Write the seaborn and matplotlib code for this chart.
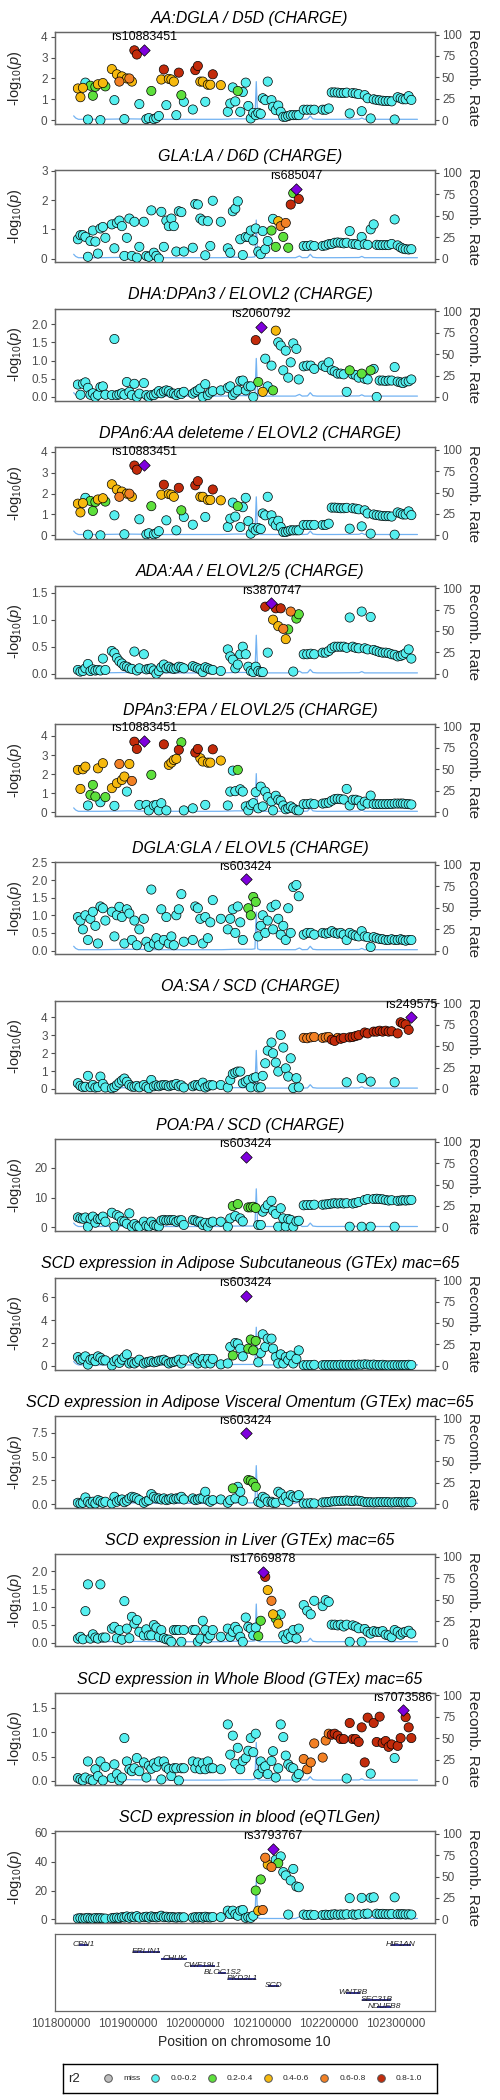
import matplotlib
matplotlib.use("Agg")
import matplotlib.pyplot as plt
from matplotlib.lines import Line2D
from matplotlib.ticker import FuncFormatter
import pandas as pd
import seaborn as sns

sns.set_style("white")
plt.rcParams["font.family"] = ["Liberation Sans", "DejaVu Sans"]
plt.rcParams["mathtext.fontset"] = "custom"
plt.rcParams["mathtext.rm"] = "Liberation Sans"
plt.rcParams["mathtext.it"] = "Liberation Sans:italic"

# ------------------------------------------------------------------ data
# SNP positions (kb) on chromosome 10, shared by all panels
snp_kb = [101825.3, 101829.1, 101832.8, 101836.5, 101840.3, 101844.0, 101847.7, 101851.4, 101855.2, 101858.9, 101862.6, 101866.3,
          101876.0, 101879.8, 101883.5, 101887.2, 101891.0, 101894.7, 101898.4, 101902.1, 101905.9, 101909.6, 101913.3, 101917.0,
          101923.8, 101927.5, 101931.2, 101934.9, 101938.7, 101942.4, 101946.1, 101949.8, 101953.6, 101957.3, 101961.0, 101964.8,
          101968.5, 101972.2, 101975.9, 101979.7, 101983.4,
          101996.8, 102000.5, 102004.3, 102008.0, 102011.7, 102015.4, 102019.2, 102022.9, 102026.6, 102038.6,
          102049.0, 102052.7, 102056.5, 102060.2, 102063.9, 102067.6, 102071.4, 102075.8, 102079.6, 102083.3, 102087.0, 102090.7,
          102094.5, 102098.2, 102101.2, 102104.9, 102108.6, 102114.2, 102116.5, 102120.6, 102124.3, 102128.0, 102131.8, 102135.5,
          102139.2, 102142.9, 102146.7, 102151.4, 102154.9,
          102162.3, 102167.5, 102172.8, 102178.0,
          102190.6, 102195.1, 102199.6, 102204.1, 102208.5, 102213.0, 102217.5, 102222.0, 102226.4, 102230.9, 102235.4, 102239.8,
          102244.3, 102248.8, 102253.3, 102257.7, 102262.2, 102266.7, 102271.2, 102275.6, 102280.1, 102284.6, 102289.0, 102293.5,
          102298.0, 102302.5, 102306.9, 102310.4, 102314.4, 102318.9, 102322.9]

# -log10(p) per panel (same SNP order) and r2 class codes (0 miss, 1 0.0-0.2 ... 5 0.8-1.0)
logp_aa_dgla = ([1.52, 1.1, 1.55, 1.8, 0.03, 1.65, 1.17, 1.6, 1.72, 0.0, 1.78, 1.62]
                + [2.45, 0.96, 2.2, 1.85, 2.1, 0.05, 2.0, 2.0, 1.85, 3.35, 3.15, 0.77, 3.38, 0.05, 0.1, 1.4, 0.05, 0.1, 0.2, 1.95,
                   2.43, 0.72, 1.98, 1.95, 1.85, 0.24, 2.28, 1.2, 0.88]
                + [0.51, 2.4, 2.6, 1.85, 1.85, 0.88, 1.7, 1.7, 2.2, 1.68]
                + [0.4, 0.8, 1.57, 0.9, 1.4, 0.4, 1.35, 1.8, 0.68, 0.08, 0.35, 0.24, 0.35, 0.3, 1.05, 0.96, 1.85, 0.96, 0.64, 0.48,
                   0.7, 0.4, 0.16, 0.16, 0.2, 0.24, 0.24, 0.24, 0.24]
                + [0.5, 0.5, 0.5, 0.5]
                + [0.5, 0.5, 0.56, 1.33, 1.33, 1.32, 1.3, 1.3, 1.32, 0.32, 1.3, 1.28, 1.25, 0.43, 1.2, 1.05, 0.08, 1.0, 0.97, 0.95,
                   0.93, 0.92, 0.92, 0.9, 0.03, 1.1, 1.05, 1.0, 1.0, 1.15, 0.97])
r2_aa_dgla = ("333112223132" + "3134313435" + "5151121113" + "513331521" + "1553313353"
              + "11112" + "1" * 24 + "1111" + "1" * 31)

logp_gla_la = ([0.66, 0.8, 0.8, 0.74, 0.06, 0.6, 0.96, 0.58, 0.17, 1.03, 1.08, 0.71]
               + [1.17, 0.35, 1.22, 1.3, 1.11, 0.09, 0.71, 1.37, 0.09, 1.26, 0.03, 0.4, 1.26, 0.09, 0.06, 1.65, 0.2, 0.09, 0.0, 1.6,
                  0.4, 1.3, 1.11, 1.37, 1.11, 0.24, 1.62, 1.59, 0.24]
               + [0.37, 1.87, 1.85, 1.37, 1.3, 0.11, 1.28, 0.43, 1.98, 1.26]
               + [0.35, 0.2, 1.62, 1.71, 1.96, 0.66, 0.12, 0.74, 0.74, 0.96, 0.62, 1.03, 0.24, 0.15, 0.94, 0.32, 0.6, 0.96, 1.36,
                  0.4, 1.28, 1.11, 0.74, 1.22, 0.37, 1.85, 2.24, 2.39, 2.04]
               + [0.43, 0.43, 0.45, 0.43]
               + [0.43, 0.45, 0.49, 0.5, 0.54, 0.55, 0.54, 0.52, 0.54, 0.94, 0.5, 0.49, 0.47, 0.74, 0.49, 0.47, 1.0, 1.17, 0.47,
                  0.46, 0.46, 0.46, 0.46, 0.5, 1.34, 0.45, 0.38, 0.34, 0.32, 0.31, 0.32])
r2_gla_la = ("1" * 12 + "1" * 29 + "1" * 10 + "1" * 17 + "212342425255" + "1111" + "1" * 31)

logp_dha_dpan3 = ([0.34, 0.06, 0.36, 0.4, 0.25, 0.06, 0.1, 0.0, 0.06, 0.27, 0.29, 0.06]
                  + [0.05, 1.59, 0.05, 0.07, 0.1, 0.06, 0.41, 0.14, 0.05, 0.36, 0.0, 0.09, 0.38, 0.05, 0.0, 0.05, 0.05, 0.1, 0.16,
                     0.1, 0.15, 0.18, 0.16, 0.1, 0.09, 0.05, 0.11, 0.08, 0.14]
                  + [0.09, 0.14, 0.18, 0.23, 0.0, 0.35, 0.05, 0.12, 0.16, 0.18]
                  + [0.25, 0.29, 0.05, 0.12, 0.18, 0.44, 0.45, 0.18, 0.29, 0.29, 0.0, 1.56, 0.41, 1.93, 0.14, 1.05, 0.29, 0.86,
                     0.18, 1.82, 1.5, 1.41, 0.73, 1.27, 0.53, 0.95, 1.47, 1.32, 0.48]
                  + [0.84, 0.86, 0.86, 0.77]
                  + [0.86, 0.82, 0.95, 0.73, 0.7, 0.64, 0.64, 0.62, 0.14, 0.73, 0.62, 0.6, 0.53, 0.64, 0.5, 0.48, 0.73, 0.77, 0.0,
                     0.45, 0.45, 0.44, 0.45, 0.45, 0.82, 0.42, 0.4, 0.38, 0.42, 0.43, 0.48])
r2_dha_dpan3 = ("1" * 12 + "1" * 29 + "1" * 10 + "11111111111" + "525311123" + "111111111" + "1111"
                + "111111111" + "2" + "111" + "2" + "11" + "2" + "1" * 14)

logp_ada_aa = ([0.07, 0.04, 0.05, 0.1, 0.18, 0.05, 0.08, 0.06, 0.07, 0.06, 0.28, 0.07]
               + [0.42, 0.38, 0.29, 0.23, 0.19, 0.14, 0.13, 0.1, 0.09, 0.41, 0.06, 0.1, 0.36, 0.08, 0.09, 0.1, 0.06, 0.0, 0.05,
                  0.12, 0.17, 0.1, 0.13, 0.1, 0.09, 0.1, 0.13, 0.12, 0.1]
               + [0.14, 0.12, 0.1, 0.08, 0.03, 0.12, 0.1, 0.08, 0.07, 0.05]
               + [0.45, 0.32, 0.26, 0.1, 0.17, 0.36, 0.5, 0.36, 0.13, 0.05, 0.03, 0.13, 0.05, 0.03, 0.03, 1.24, 0.39, 1.3, 1.0,
                  1.21, 0.88, 1.21, 0.83, 0.64, 0.82, 1.15, 0.04, 1.02, 1.1]
               + [0.36, 0.36, 0.37, 0.36]
               + [0.39, 0.39, 0.42, 0.47, 0.5, 0.5, 0.5, 0.5, 0.48, 1.04, 0.5, 0.48, 0.47, 1.15, 0.47, 0.45, 1.05, 0.44, 0.42,
                  0.4, 0.39, 0.39, 0.38, 0.36, 0.35, 0.32, 0.33, 0.35, 0.38, 0.45, 0.28])
r2_ada_aa = ("1" * 12 + "1" * 29 + "1" * 10 + "111111111111111" + "51535354324122" + "1111" + "1" * 31)

logp_dpan3_epa = ([2.22, 1.22, 2.25, 2.39, 0.35, 0.91, 1.43, 0.82, 2.3, 0.52, 2.57, 0.79]
                  + [1.26, 0.33, 1.52, 2.53, 1.69, 1.87, 1.08, 2.53, 1.64, 3.7, 3.32, 0.38, 3.74, 0.38, 0.09, 1.96, 0.35, 0.38,
                     0.09, 0.47, 3.56, 0.09, 2.48, 2.6, 2.74, 2.8, 3.27, 3.67, 0.09]
                  + [0.2, 3.13, 3.32, 2.83, 2.66, 0.38, 2.6, 2.6, 3.3, 2.71]
                  + [0.35, 1.08, 2.18, 1.1, 2.22, 1.2, 1.08, 0.3, 0.09, 0.38, 0.47, 1.05, 0.2, 1.34, 0.3, 1.08, 0.79, 0.56, 0.09,
                     0.86, 0.65, 0.59, 0.35, 0.15, 0.2, 0.3, 0.2, 0.1, 0.09]
                  + [0.42, 0.42, 0.45, 0.42]
                  + [0.45, 0.47, 0.5, 0.6, 0.68, 0.7, 0.68, 0.66, 1.22, 0.35, 0.65, 0.65, 0.6, 0.35, 0.55, 0.45, 0.87, 0.42,
                     0.42, 0.42, 0.42, 0.42, 0.43, 0.43, 0.45, 0.45, 0.45, 0.45, 0.43, 0.42, 0.4])
r2_dpan3_epa = ("333312223132" + "3134331345" + "5151121111" + "513333521" + "1553313353"
                + "11112" + "1" * 24 + "1111" + "1" * 31)

logp_dgla_gla = ([0.95, 0.85, 0.6, 1.0, 0.3, 0.9, 1.1, 0.7, 0.2, 1.25, 1.2, 0.85]
                 + [1.1, 0.4, 1.0, 1.24, 0.95, 0.2, 1.17, 1.05, 0.3, 0.85, 0.15, 0.6, 0.9, 0.25, 0.1, 1.73, 0.2, 0.35, 0.15,
                    1.17, 0.3, 0.95, 0.2, 0.4, 0.15, 1.0, 1.17, 1.6, 0.25]
                 + [0.3, 1.25, 1.2, 0.9, 0.2, 0.95, 0.35, 0.8, 1.43, 0.9]
                 + [0.6, 0.9, 1.17, 0.5, 1.25, 0.8, 0.3, 2.02, 1.2, 1.0, 1.52, 1.38, 0.4, 0.7, 1.0, 0.5, 0.85, 1.23, 0.6, 1.3,
                    0.9, 0.45, 0.7, 0.3, 1.2, 0.5, 1.8, 1.86, 1.54]
                 + [0.45, 0.5, 0.5, 0.45]
                 + [0.5, 0.48, 0.5, 0.55, 0.5, 0.48, 0.5, 0.45, 0.3, 0.5, 0.45, 0.42, 0.4, 0.55, 0.4, 0.38, 0.1, 0.38, 0.35,
                    0.33, 0.32, 0.3, 0.3, 0.32, 0.3, 0.3, 0.32, 0.3, 0.28, 0.3, 0.3])
r2_dgla_gla = ("1" * 12 + "1" * 29 + "1" * 10 + "1111111" + "5" + "2222" + "1" * 17 + "1111" + "1" * 31)

logp_oa_sa = ([0.32, 0.17, 0.1, 0.12, 0.73, 0.1, 0.22, 0.08, 0.1, 0.69, 0.28, 0.08]
              + [0.04, 0.1, 0.22, 0.35, 0.47, 0.58, 0.4, 0.22, 0.13, 0.12, 0.17, 0.09, 0.22, 0.12, 0.04, 0.5, 0.15, 0.2, 0.15,
                 0.2, 0.22, 0.2, 0.15, 0.2, 0.22, 0.28, 0.15, 0.2, 0.08]
              + [0.15, 0.22, 0.2, 0.15, 0.35, 0.08, 0.15, 0.22, 0.2, 0.22]
              + [0.08, 0.5, 0.84, 0.91, 0.97, 0.97, 0.32, 0.41, 0.5, 0.09, 0.6, 0.65, 0.08, 0.09, 0.73, 1.43, 2.14, 2.59, 1.99,
                 1.47, 0.97, 3.01, 2.31, 1.15, 0.69, 1.71, 0.05, 0.6, 0.09]
              + [2.85, 2.83, 2.88, 2.9]
              + [2.85, 2.88, 2.9, 2.75, 2.68, 2.85, 2.8, 2.85, 0.37, 2.88, 2.9, 2.95, 3.0, 0.6, 3.15, 3.1, 0.41, 3.2, 3.2,
                 3.25, 3.2, 3.25, 3.2, 3.22, 0.37, 3.1, 3.72, 3.65, 3.6, 3.3, 4.0])
r2_oa_sa = ("1" * 12 + "1" * 29 + "1" * 10 + "1" * 29 + "4444" + "4445545515" + "5551551555" + "55551555555")

logp_poa_pa = ([3.35, 3.0, 2.9, 3.3, 0.2, 2.9, 3.6, 1.56, 2.8, 2.8, 3.6, 1.9]
               + [4.9, 0.2, 4.1, 3.6, 2.1, 1.9, 1.2, 4.7, 0.2, 1.1, 0.4, 0.2, 1.9, 0.5, 0.3, 1.9, 0.8, 0.5, 0.3, 2.3, 2.5, 2.3,
                  2.4, 2.4, 2.4, 1.9, 2.3, 2.4, 0.8]
               + [2.5, 2.3, 1.9, 1.9, 0.8, 1.5, 0.2, 1.6, 1.9, 1.9]
               + [0.2, 3.0, 7.15, 3.8, 7.8, 3.0, 2.0, 23.7, 6.7, 6.7, 6.9, 6.5, 0.8, 0.8, 5.25, 6.4, 7.5, 8.9, 5.6, 4.5, 0.2,
                  6.4, 3.0, 0.3, 2.8, 2.5, 0.2, 2.0, 2.2]
               + [7.4, 7.5, 7.5, 7.6]
               + [7.6, 7.7, 7.8, 8.0, 8.1, 8.0, 8.1, 8.0, 8.1, 0.2, 8.0, 8.2, 8.5, 0.2, 9.2, 9.5, 0.2, 9.5, 9.6, 9.5, 9.4, 9.2,
                  9.0, 9.1, 0.2, 8.9, 9.0, 9.1, 9.0, 9.1, 9.2])
r2_poa_pa = ("1" * 12 + "1" * 29 + "1" * 10 + "1121211" + "5" + "2222" + "1" * 17 + "1111" + "1" * 31)

logp_adipose_sc = ([0.76, 0.53, 0.6, 0.82, 0.1, 0.53, 0.6, 0.4, 0.82, 0.7, 0.47, 0.47]
                   + [0.03, 0.4, 0.55, 0.25, 0.53, 0.76, 1.0, 0.2, 0.3, 0.2, 0.35, 0.53, 0.2, 0.3, 0.35, 0.4, 0.3, 0.35, 0.45,
                      0.47, 0.53, 0.4, 0.2, 0.3, 0.35, 0.4, 0.53, 0.2, 0.53]
                   + [0.6, 0.7, 0.2, 0.47, 0.6, 0.2, 0.6, 0.2, 0.6, 0.12]
                   + [0.2, 1.65, 0.9, 2.0, 1.94, 1.5, 0.82, 6.15, 1.5, 2.3, 1.35, 2.18, 0.3, 1.12, 2.76, 1.65, 2.38, 2.38, 1.5,
                      0.76, 0.2, 1.0, 0.2, 0.76, 0.5, 0.9, 0.2, 0.6, 1.35]
                   + [0.05, 0.05, 0.06, 0.08]
                   + [0.05, 0.06, 0.05, 0.07, 0.06, 0.05, 0.08, 0.06, 0.07, 0.06, 0.08, 0.07, 0.1, 0.09, 0.12, 0.1, 0.08, 0.1,
                      0.06, 0.05, 0.08, 0.04, 0.03, 0.05, 0.06, 0.04, 0.05, 0.06, 0.05, 0.08, 0.06])
r2_adipose_sc = ("1" * 12 + "1" * 29 + "1" * 10 + "1121111" + "5" + "2222" + "1" * 17 + "1111" + "1" * 31)

logp_adipose_vo = ([0.14, 0.07, 0.14, 0.7, 0.25, 0.07, 0.25, 0.07, 0.42, 0.3, 0.14, 0.25]
                   + [0.07, 0.77, 0.25, 0.42, 0.49, 0.2, 0.35, 0.6, 0.77, 0.7, 0.6, 0.42, 0.14, 0.3, 0.42, 1.05, 0.77, 0.6,
                      0.6, 0.49, 0.6, 0.42, 0.49, 0.6, 0.5, 0.6, 0.6, 0.77, 0.49]
                   + [0.6, 0.42, 0.49, 0.6, 0.6, 1.3, 0.42, 0.25, 0.42, 0.49]
                   + [0.14, 0.42, 1.65, 0.6, 1.82, 1.3, 0.35, 7.44, 2.53, 2.46, 2.25, 1.82, 0.25, 0.14, 0.77, 0.6, 0.25, 0.25,
                      0.14, 0.14, 1.3, 1.12, 0.42, 0.77, 0.25, 0.95, 0.77, 0.7, 0.95]
                   + [0.07, 0.07, 0.1, 0.07]
                   + [0.18, 0.2, 0.22, 0.28, 0.3, 0.32, 0.35, 0.35, 0.38, 0.35, 0.32, 0.38, 0.35, 0.3, 0.22, 0.2, 0.2, 0.18,
                      0.2, 0.22, 0.2, 0.22, 0.2, 0.18, 0.2, 0.22, 0.2, 0.18, 0.2, 0.22, 0.2])
r2_adipose_vo = ("1" * 12 + "1" * 29 + "1" * 10 + "1121111" + "5" + "2222" + "1" * 17 + "1111" + "1" * 31)

logp_liver = ([0.11, 0.16, 0.09, 0.88, 1.63, 0.11, 0.23, 0.14, 0.11, 1.63, 0.14, 0.14]
              + [0.39, 0.44, 0.12, 0.35, 0.08, 1.16, 0.39, 0.12, 0.72, 0.53, 0.63, 0.3, 0.2, 0.37, 0.2, 0.2, 0.49, 0.42, 0.16,
                 0.35, 0.12, 0.09, 0.08, 0.02, 0.35, 0.35, 0.35, 0.02, 0.35]
              + [0.35, 0.35, 0.02, 0.11, 0.61, 0.35, 0.11, 0.2, 0.35, 0.16]
              + [0.39, 0.16, 0.3, 0.44, 0.35, 0.16, 0.02, 0.7, 0.44, 0.39, 0.2, 0.42, 0.18, 0.61, 1.98, 1.84, 1.47, 1.17, 0.79,
                 0.67, 0.53, 0.79, 0.2, 0.1, 0.25, 0.16, 0.35, 0.11, 0.39]
              + [1.05, 0.89, 0.79, 1.17]
              + [1.02, 1.19, 1.14, 0.5, 0.5, 0.48, 0.5, 0.45, 0.5, 0.02, 0.48, 0.45, 0.4, 0.02, 0.38, 0.3, 0.25, 0.32, 0.3,
                 0.3, 0.32, 0.22, 0.2, 0.15, 0.35, 0.3, 0.22, 0.28, 0.3, 0.33, 0.25])
r2_liver = ("1" * 12 + "1" * 29 + "1" * 10 + "111111111111" + "225534323" + "11111111" + "1111" + "1" * 31)

logp_whole_blood = ([0.06, 0.03, 0.01, 0.07, 0.4, 0.03, 0.01, 0.24, 0.1, 0.4, 0.01, 0.29]
                    + [0.06, 0.34, 0.14, 0.01, 0.07, 0.88, 0.4, 0.24, 0.2, 0.26, 0.47, 0.2, 0.38, 0.07, 0.31, 0.25, 0.36,
                       0.29, 0.4, 0.03, 0.4, 0.28, 0.24, 0.1, 0.26, 0.26, 0.01, 0.26, 0.26]
                    + [0.4, 0.26, 0.38, 0.24, 0.36, 0.24, 0.4, 0.26, 0.26, 0.24]
                    + [1.16, 0.54, 0.93, 0.35, 0.68, 0.24, 0.41, 0.47, 0.62, 0.88, 0.59, 0.97, 0.14, 0.4, 0.26, 0.3, 0.14,
                       0.41, 0.61, 0.07, 0.26, 1.16, 0.9, 0.52, 0.34, 0.28, 0.26, 0.07, 0.14]
                    + [0.45, 0.24, 0.38, 0.77]
                    + [0.48, 0.83, 0.97, 0.95, 0.97, 0.93, 0.86, 0.86, 0.05, 1.19, 0.86, 0.86, 0.8, 1.1, 0.38, 1.3, 0.15,
                       1.19, 0.8, 1.32, 0.78, 0.82, 0.7, 0.75, 0.47, 0.72, 0.88, 1.45, 1.31, 1.1, 0.88])
r2_whole_blood = ("1" * 12 + "1" * 29 + "1" * 10 + "1" * 29 + "4444" + "4445555515" + "5555551555" + "55551555555")

logp_eqtlgen = ([0.6, 0.8, 0.5, 0.7, 1.0, 0.6, 0.5, 0.9, 0.7, 0.8, 0.6, 0.5]
                + [0.8, 1.0, 1.2, 0.9, 1.5, 1.3, 2.0, 1.1, 1.8, 1.4, 2.2, 1.2, 1.5, 1.8, 1.2, 2.0, 1.6, 1.4, 1.8, 2.5, 1.5,
                   1.8, 1.3, 1.6, 1.4, 1.2, 1.5, 1.3, 1.4]
                + [1.2, 1.5, 1.3, 1.6, 1.2, 1.8, 1.4, 1.3, 1.6, 1.5]
                + [6.0, 3.7, 6.0, 3.5, 2.5, 6.0, 6.5, 1.0, 1.5, 1.0, 2.5, 20.0, 6.0, 27.7, 6.5, 42.8, 38.0, 36.3, 49.0,
                   41.4, 39.0, 43.7, 32.8, 30.5, 3.3, 27.0, 35.0, 22.8, 22.3]
                + [3.3, 3.0, 3.2, 3.0]
                + [3.0, 3.2, 3.0, 3.3, 3.5, 3.2, 3.4, 3.3, 3.5, 14.7, 3.4, 3.2, 3.5, 14.9, 3.8, 4.0, 15.0, 15.3, 3.9, 3.7,
                   3.8, 3.6, 3.5, 3.7, 15.3, 3.6, 3.5, 3.6, 3.4, 3.5, 3.3])
r2_eqtlgen = ("1" * 12 + "1" * 29 + "1" * 10 + "11111111111" + "2324434512" + "11111111" + "1111" + "1" * 31)

# panels
panel_titles = ["AA:DGLA / D5D (CHARGE)", "GLA:LA / D6D (CHARGE)", "DHA:DPAn3 / ELOVL2 (CHARGE)",
                "DPAn6:AA deleteme / ELOVL2 (CHARGE)", "ADA:AA / ELOVL2/5 (CHARGE)", "DPAn3:EPA / ELOVL2/5 (CHARGE)",
                "DGLA:GLA / ELOVL5 (CHARGE)", "OA:SA / SCD (CHARGE)", "POA:PA / SCD (CHARGE)",
                "SCD expression in Adipose Subcutaneous (GTEx) mac=65",
                "SCD expression in Adipose Visceral Omentum (GTEx) mac=65",
                "SCD expression in Liver (GTEx) mac=65", "SCD expression in Whole Blood (GTEx) mac=65",
                "SCD expression in blood (eQTLGen)"]
panel_logp = [logp_aa_dgla, logp_gla_la, logp_dha_dpan3, logp_aa_dgla, logp_ada_aa, logp_dpan3_epa, logp_dgla_gla,
              logp_oa_sa, logp_poa_pa, logp_adipose_sc, logp_adipose_vo, logp_liver, logp_whole_blood, logp_eqtlgen]
panel_r2 = [r2_aa_dgla, r2_gla_la, r2_dha_dpan3, r2_aa_dgla, r2_ada_aa, r2_dpan3_epa, r2_dgla_gla,
            r2_oa_sa, r2_poa_pa, r2_adipose_sc, r2_adipose_vo, r2_liver, r2_whole_blood, r2_eqtlgen]
lead_snp = ["rs10883451", "rs685047", "rs2060792", "rs10883451", "rs3870747", "rs10883451", "rs603424",
            "rs249575", "rs603424", "rs603424", "rs603424", "rs17669878", "rs7073586", "rs3793767"]
lead_kb = [101923.8, 102151.4, 102098.2, 101923.8, 102114.2, 101923.8, 102075.8,
           102322.9, 102075.8, 102075.8, 102075.8, 102101.2, 102310.4, 102116.5]
y_top = [4.23, 3.02, 2.42, 4.23, 1.63, 4.63, 2.5, 4.92, 29.6, 7.74, 9.26, 2.47, 1.81, 61.2]
y_ticks = [[0, 1, 2, 3, 4], [0, 1, 2, 3], [0, 0.5, 1, 1.5, 2], [0, 1, 2, 3, 4], [0, 0.5, 1, 1.5], [0, 1, 2, 3, 4],
           [0, 0.5, 1, 1.5, 2, 2.5], [0, 1, 2, 3, 4], [0, 10, 20], [0, 2, 4, 6], [0, 2.5, 5, 7.5],
           [0, 0.5, 1, 1.5, 2], [0, 0.5, 1, 1.5], [0, 20, 40, 60]]
y_ticklabels = [["0", "1", "2", "3", "4"], ["0", "1", "2", "3"], ["0.0", "0.5", "1.0", "1.5", "2.0"],
                ["0", "1", "2", "3", "4"], ["0.0", "0.5", "1.0", "1.5"], ["0", "1", "2", "3", "4"],
                ["0.0", "0.5", "1.0", "1.5", "2.0", "2.5"], ["0", "1", "2", "3", "4"], ["0", "10", "20"],
                ["0", "2", "4", "6"], ["0.0", "2.5", "5.0", "7.5"], ["0.0", "0.5", "1.0", "1.5", "2.0"],
                ["0.0", "0.5", "1.0", "1.5"], ["0", "20", "40", "60"]]

# recombination rate (cM/Mb)
recomb_kb = [101819, 101822, 101826, 101860, 101900, 101950, 102000, 102040, 102060, 102085, 102089.5, 102091.5,
             102093.5, 102097, 102130, 102150, 102156, 102160, 102168, 102172, 102176, 102182, 102210, 102245,
             102249, 102253, 102262, 102300, 102332]
recomb_rate = [5, 2.5, 1, 1, 1.5, 1, 1, 1, 1.5, 1.5, 2, 45, 2, 1, 1, 1, 3, 1, 1.2, 5, 1.5, 1, 1, 1.2, 2.5, 1, 1, 1, 1]

# genes
gene_names = ["CPN1", "ERLIN1", "CHUK", "CWF19L1", "BLOC1S2", "PKD2L1", "SCD", "WNT8B", "SEC31B", "NDUFB8", "HIF1AN"]
gene_start_kb = [101826.8, 101907.0, 101949.0, 101992.0, 102034.0, 102049.0, 102109.0, 102226.0, 102249.0, 102271.0, 102292.0]
gene_end_kb = [101840.3, 101948.0, 101988.0, 102030.0, 102047.0, 102091.0, 102125.0, 102246.0, 102293.0, 102293.0, 102322.0]
gene_row = [0, 1, 2, 3, 4, 5, 6, 7, 8, 9, 0]

r2_labels = ["miss", "0.0-0.2", "0.2-0.4", "0.4-0.6", "0.6-0.8", "0.8-1.0"]
r2_colors = ["#BEBEBE", "#55EFEF", "#5DE03C", "#F6B90E", "#F28024", "#C22B0B"]
lead_color = "#7F00DD"

# ------------------------------------------------------------------ layout
W, H = 500, 2100
fig = plt.figure(figsize=(W / 100, H / 100), dpi=100)
ax_left, ax_right = 54.5, 435.0
panel_top0, panel_pitch, panel_h = 32.0, 138.4, 92.0
xlim = (101790400, 102358200)
spine_col = "#666666"
tick_col = "#4D4D4D"
palette = dict(zip(r2_labels, r2_colors))


def fig_rect(left_px, top_px, width_px, height_px):
    return [left_px / W, 1 - (top_px + height_px) / H, width_px / W, height_px / H]


for k in range(len(panel_titles)):
    top = panel_top0 + k * panel_pitch
    ax = fig.add_axes(fig_rect(ax_left, top, ax_right - ax_left, panel_h))
    ax2 = ax.twinx()

    df = pd.DataFrame({"pos": [v * 1000 for v in snp_kb], "logp": panel_logp[k],
                       "code": [int(c) for c in panel_r2[k]]})
    df["r2"] = [r2_labels[c] for c in df["code"]]
    lead_mask = (df["pos"] - lead_kb[k] * 1000).abs() < 50
    pts = df[~lead_mask].sort_values("code", kind="stable")
    lead = df[lead_mask]

    sns.lineplot(x=[v * 1000 for v in recomb_kb], y=recomb_rate, ax=ax2, color="#72B2F2",
                 linewidth=0.9, errorbar=None)
    sns.scatterplot(data=pts, x="pos", y="logp", hue="r2", hue_order=r2_labels, palette=palette,
                    s=44, edgecolor="black", linewidth=0.5, legend=False, ax=ax, zorder=3)
    sns.scatterplot(data=lead, x="pos", y="logp", marker="D", color=lead_color, s=34,
                    edgecolor="black", linewidth=0.5, legend=False, ax=ax, zorder=4)
    for _, row in lead.iterrows():
        ax.annotate(lead_snp[k], (row["pos"], row["logp"]), xytext=(0, 9), textcoords="offset points",
                    ha="center", va="center", fontsize=9, color="black", zorder=6)

    ax.set_zorder(ax2.get_zorder() + 1)
    ax.patch.set_visible(False)

    ax.set_xlim(*xlim)
    ax.set_ylim(-0.044 * y_top[k], y_top[k])
    ax2.set_ylim(-4.5, 103)
    ax.set_xticks([])
    ax.set_xlabel("")
    ax.set_yticks(y_ticks[k])
    ax.set_yticklabels(y_ticklabels[k])
    ax2.set_yticks([0, 25, 50, 75, 100])
    ax2.set_yticklabels(["0", "25", "50", "75", "100"])
    for a in (ax, ax2):
        a.tick_params(axis="y", direction="out", length=3, width=0.8, color=tick_col,
                      labelsize=8.5, labelcolor=tick_col, pad=2)
        for sp in a.spines.values():
            sp.set_color(spine_col)
            sp.set_linewidth(0.9)
    ax.set_ylabel(r"-log$_{10}$($p$)", fontsize=10.5, ha="center", va="center")
    ax.yaxis.set_label_coords(-0.104, 0.5)
    ax2.set_ylabel("Recomb. Rate", fontsize=11, rotation=270, ha="center", va="center")
    ax2.yaxis.set_label_coords(1.10, 0.5)

    fig.text(0.5, 1 - (top - 13.8) / H, panel_titles[k], ha="center", va="center",
             fontsize=11.5, style="italic", color="black")

# gene track
gax = fig.add_axes(fig_rect(ax_left, 1934, ax_right - ax_left, 77))
gax.hlines(y=gene_row, xmin=[v * 1000 for v in gene_start_kb], xmax=[v * 1000 for v in gene_end_kb],
           color="#1C1C80", linewidth=1.3)
for name, s0, e0, r in zip(gene_names, gene_start_kb, gene_end_kb, gene_row):
    gax.text((s0 + e0) / 2 * 1000, r + 0.15, name, ha="center", va="baseline", fontsize=6,
             style="italic", color="#222222")
gax.set_xlim(*xlim)
gax.set_ylim(9.6, -1.6)
gax.set_yticks([])
gax.set_xticks([101800000, 101900000, 102000000, 102100000, 102200000, 102300000])
gax.xaxis.set_major_formatter(FuncFormatter(lambda v, p: f"{int(round(v))}"))
gax.tick_params(axis="x", direction="out", length=3, width=0.8, color=tick_col, labelsize=8.5,
                labelcolor=tick_col, pad=2)
for sp in gax.spines.values():
    sp.set_color(spine_col)
    sp.set_linewidth(0.9)
gax.set_xlabel("Position on chromosome 10", fontsize=10, va="center")
gax.xaxis.set_label_coords(0.5, -30.7 / 77)

# legend box
lax = fig.add_axes(fig_rect(63, 2064, 374, 29))
lax.set_xticks([])
lax.set_yticks([])
for sp in lax.spines.values():
    sp.set_color("black")
    sp.set_linewidth(1.0)
lax.text(11 / 374, 0.5, "r2", ha="center", va="center", fontsize=9.5, transform=lax.transAxes)
handles = [Line2D([], [], marker="o", linestyle="", markerfacecolor=c, markeredgecolor="#555555",
                  markersize=5.5, markeredgewidth=0.7) for c in r2_colors]
lax.legend(handles, r2_labels, loc="center", bbox_to_anchor=(0.535, 0.5), ncol=6, frameon=False,
           fontsize=6, handlelength=1.0, handletextpad=1.3, columnspacing=1.3, borderpad=0.2)

fig.savefig("out.png", dpi=100, facecolor="white")
